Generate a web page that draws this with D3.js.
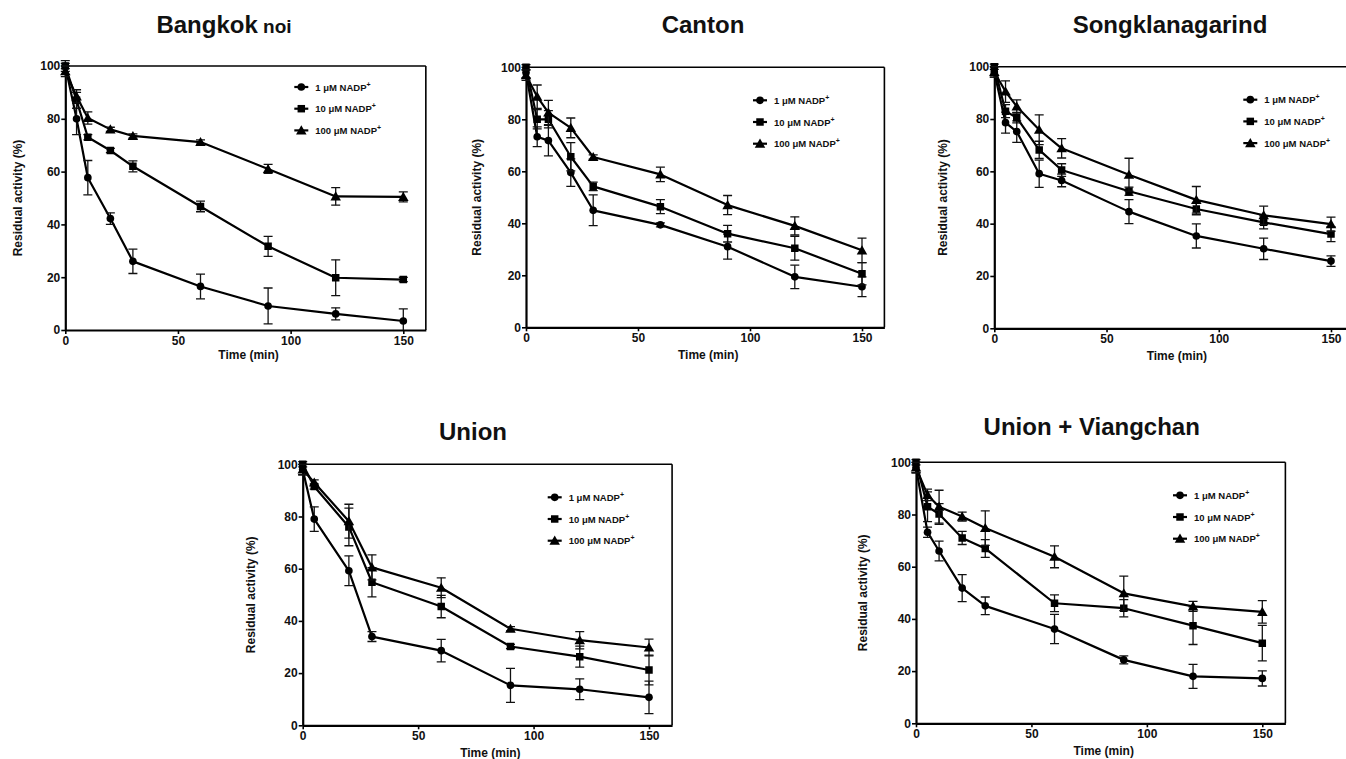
<!DOCTYPE html>
<html><head><meta charset="utf-8">
<script src="https://cdn.jsdelivr.net/npm/d3@7"></script>
<style>
html,body{margin:0;padding:0;background:#fff;}
svg{display:block;font-family:"Liberation Sans",Arial,Helvetica,sans-serif;}
</style></head>
<body>
<svg id="c" width="1346" height="759"></svg>
<script>
// ---------- data ----------
const times = [0, 5, 10, 20, 30, 60, 90, 120, 150];
const timesUnion = [0, 5, 20, 30, 60, 90, 120, 150];
const seriesLabels = ["1 \u03bcM NADP", "10 \u03bcM NADP", "100 \u03bcM NADP"];
const xTicks = [0, 50, 100, 150];
const yTicks = [0, 20, 40, 60, 80, 100];
const panelTitles = ["Bangkok noi", "Canton", "Songklanagarind", "Union", "Union + Viangchan"];

const bk1 = [100, 80, 57.7, 42.2, 26, 16.5, 9.1, 6.1, 3.4];
const bk1Err = [2, 6, 6.5, 2.2, 4.6, 4.7, 6.8, 2.3, 4.6];
const bk10 = [100, 87, 73, 68, 62, 46.8, 31.7, 19.8, 19.1];
const bk10Err = [1, 3, 1, 0.8, 2.1, 2, 3.8, 6.8, 0.8];
const bk100 = [98, 88.5, 80.3, 76, 73.5, 71.2, 61, 50.6, 50.4];
const bk100Err = [2, 2.5, 2.3, 0.8, 0.8, 0.8, 1.7, 3.3, 1.9];

const ca1 = [98, 73.3, 71.8, 59.5, 45, 39.4, 31, 19.4, 15.6];
const ca1Err = [2, 3.8, 5.9, 5.3, 5.9, 0.8, 4.8, 4.5, 3.8];
const ca10 = [100, 80, 80, 65.6, 54.2, 46.4, 36, 30.4, 20.6];
const ca10Err = [1, 3.7, 3.3, 5.4, 1.6, 2.7, 3.2, 4.6, 4.3];
const ca100 = [97, 88.7, 82.6, 76.7, 65.5, 58.8, 47, 39, 29.6];
const ca100Err = [2, 4.5, 4.7, 3.8, 0.8, 2.8, 3.7, 3.5, 4.7];

const sk1 = [98, 78.6, 75.2, 59.1, 56.5, 44.6, 35.3, 30.4, 25.7];
const sk1Err = [2, 4, 4.1, 5.2, 2.4, 4.6, 4.6, 4.1, 2];
const sk10 = [100, 83, 80.5, 68.2, 60.5, 52.4, 45.6, 40.5, 36];
const sk10Err = [1, 2.5, 2, 3.3, 2.4, 1.6, 2.2, 2.5, 2.9];
const sk100 = [98, 90.5, 84.8, 75.9, 68.8, 58.7, 49.1, 43.2, 39.8];
const sk100Err = [2, 4.1, 2.5, 5.7, 3.7, 6.3, 5.1, 3.5, 2.7];

const un1 = [98, 79, 59.2, 34, 28.6, 15.3, 13.8, 10.7];
const un1Err = [2, 4.7, 5.7, 1.9, 4.3, 6.5, 4, 6.2];
const un10 = [100, 91.5, 76, 54.8, 45.5, 30.2, 26.3, 21.2];
const un10Err = [1, 1, 7.2, 5.6, 4.3, 0.8, 4, 5.7];
const un100 = [98, 93, 78.2, 60.5, 52.7, 37, 32.6, 29.8];
const un100Err = [2, 1, 6.5, 4.8, 3.8, 0.8, 3.3, 3.2];

const uv1 = [98, 73.2, 66, 51.8, 45, 36.1, 24.3, 18, 17.2];
const uv1Err = [2, 2, 3.8, 5.2, 3.4, 5.6, 1.5, 4.6, 2.9];
const uv10 = [100, 83, 80.2, 71, 67, 46, 44.1, 37.4, 30.7];
const uv10Err = [1, 5.7, 4, 2.5, 3.4, 3.2, 3.3, 7.2, 6.8];
const uv100 = [98, 87.5, 83, 79.2, 74.8, 63.8, 49.8, 44.8, 42.7];
const uv100Err = [2, 2.2, 6.3, 1.7, 6.6, 4.2, 6.6, 1.9, 4.3];

// ---------- layout ----------
const panels = [
  {title: panelTitles[0], t: times, s: [[bk1,bk1Err],[bk10,bk10Err],[bk100,bk100Err]],
   x0: 65.3, x150: 403.3, y0: 330, y100: 66, tx: 224, ty: 33, lx: 236, ly: 21, ylx: 18, xly: 359},
  {title: panelTitles[1], t: times, s: [[ca1,ca1Err],[ca10,ca10Err],[ca100,ca100Err]],
   x0: 526, x150: 862, y0: 327.3, y100: 67.3, tx: 703, ty: 33, lx: 234, ly: 33, ylx: 476.7, xly: 359},
  {title: panelTitles[2], t: times, s: [[sk1,sk1Err],[sk10,sk10Err],[sk100,sk100Err]],
   x0: 994.3, x150: 1331, y0: 328.3, y100: 66.7, tx: 1170, ty: 33, lx: 256, ly: 33, ylx: 943, xly: 360},
  {title: panelTitles[3], t: timesUnion, s: [[un1,un1Err],[un10,un10Err],[un100,un100Err]],
   x0: 302.7, x150: 649, y0: 725.3, y100: 464.3, tx: 473, ty: 440, lx: 252, ly: 33, ylx: 250.7, xly: 757},
  {title: panelTitles[4], t: times, s: [[uv1,uv1Err],[uv10,uv10Err],[uv100,uv100Err]],
   x0: 916, x150: 1262.3, y0: 723.3, y100: 462.3, tx: 1091.7, ty: 435, lx: 264, ly: 33, ylx: 863.3, xly: 755}
];

const svg = d3.select("#c");
const symbols = [d3.symbolCircle, d3.symbolSquare, d3.symbolTriangle];
const symSize = [46, 56, 48];

panels.forEach((p, pi) => {
  const x1 = p.x0 + (p.x150 - p.x0) * 160 / 150;
  const x = d3.scaleLinear().domain([0, 160]).range([p.x0, x1]);
  const y = d3.scaleLinear().domain([0, 100]).range([p.y0, p.y100]);
  const g = svg.append("g");

  const clipId = "clip" + pi;
  svg.append("clipPath").attr("id", clipId).append("rect")
    .attr("x", p.x0 - 10).attr("y", p.y100 - 10)
    .attr("width", x1 - p.x0 + 20).attr("height", p.y0 - p.y100 + 10);

  // frame top and right
  g.append("line").attr("x1", p.x0).attr("x2", x1).attr("y1", p.y100).attr("y2", p.y100)
    .attr("stroke", "#000").attr("stroke-width", 1.6);
  g.append("line").attr("x1", x1).attr("x2", x1).attr("y1", p.y100).attr("y2", p.y0)
    .attr("stroke", "#000").attr("stroke-width", 1.6);

  // axes
  const xa = g.append("g").attr("transform", `translate(0,${p.y0})`)
    .call(d3.axisBottom(x).tickValues(xTicks).tickSize(4).tickPadding(2).tickSizeOuter(0));
  const ya = g.append("g").attr("transform", `translate(${p.x0},0)`)
    .call(d3.axisLeft(y).tickValues(yTicks).tickSize(4).tickPadding(1).tickSizeOuter(0));
  [xa, ya].forEach(a => {
    a.select(".domain").attr("stroke", "#000").attr("stroke-width", 2.2);
    a.selectAll(".tick line").attr("stroke", "#000").attr("stroke-width", 1.6);
    a.selectAll(".tick text").attr("fill", "#111").attr("font-size", 12).attr("font-weight", "bold")
      .attr("font-family", "Liberation Sans, Arial, sans-serif");
  });

  // axis titles
  g.append("text").attr("x", (p.x0 + x1) / 2 + 3).attr("y", p.xly)
    .attr("text-anchor", "middle").attr("font-size", 12).attr("font-weight", "bold").attr("fill", "#111")
    .text("Time (min)");
  g.append("text").attr("transform", `translate(${p.ylx + 4},${(p.y0 + p.y100) / 2}) rotate(-90)`)
    .attr("text-anchor", "middle").attr("font-size", 12).attr("font-weight", "bold").attr("fill", "#111")
    .text("Residual activity (%)");

  // title
  const tt = g.append("text").attr("x", p.tx).attr("y", p.ty).attr("text-anchor", "middle")
    .attr("font-weight", "bold").attr("font-size", 24).attr("fill", "#111");
  if (p.title === "Bangkok noi") {
    tt.append("tspan").text("Bangkok");
    tt.append("tspan").attr("font-size", 19).text(" noi");
  } else {
    tt.text(p.title);
  }

  const plot = g.append("g").attr("clip-path", `url(#${clipId})`);
  const line = d3.line().x(d => x(d[0])).y(d => y(d[1]));

  p.s.forEach((ser, si) => {
    const vals = ser[0], errs = ser[1];
    const pts = p.t.map((t, i) => [t, vals[i], errs[i]]);
    plot.append("path").datum(pts).attr("d", line).attr("fill", "none")
      .attr("stroke", "#000").attr("stroke-width", 2.2).attr("stroke-linejoin", "round");
    const eb = plot.append("g").attr("stroke", "#111").attr("stroke-width", 1.3);
    pts.forEach(d => {
      const xx = x(d[0]), yt = y(d[1] + d[2]), yb = y(d[1] - d[2]);
      eb.append("line").attr("x1", xx).attr("x2", xx).attr("y1", yt).attr("y2", yb);
      eb.append("line").attr("x1", xx - 4.5).attr("x2", xx + 4.5).attr("y1", yt).attr("y2", yt);
      eb.append("line").attr("x1", xx - 4.5).attr("x2", xx + 4.5).attr("y1", yb).attr("y2", yb);
    });
    plot.append("g").selectAll("path").data(pts).join("path")
      .attr("transform", d => `translate(${x(d[0])},${y(d[1]) + (si === 2 ? 1 : 0)})`)
      .attr("d", d3.symbol().type(symbols[si]).size(symSize[si]))
      .attr("fill", "#000");
  });

  // legend
  const lg = g.append("g");
  seriesLabels.forEach((lab, si) => {
    const mx = p.x0 + p.lx, my = p.y100 + p.ly + si * 21.7;
    lg.append("line").attr("x1", mx - 7).attr("x2", mx + 7).attr("y1", my).attr("y2", my)
      .attr("stroke", "#000").attr("stroke-width", 2.2);
    lg.append("path").attr("transform", `translate(${mx},${my + (si === 2 ? 1 : 0)})`)
      .attr("d", d3.symbol().type(symbols[si]).size(symSize[si])).attr("fill", "#000");
    const tx = lg.append("text").attr("x", mx + 14).attr("y", my + 3.5)
      .attr("font-size", 9.5).attr("font-weight", "bold").attr("fill", "#111");
    tx.append("tspan").text(lab);
    tx.append("tspan").attr("font-size", 7).attr("dy", -4).text("+");
  });
});
</script>
</body></html>
